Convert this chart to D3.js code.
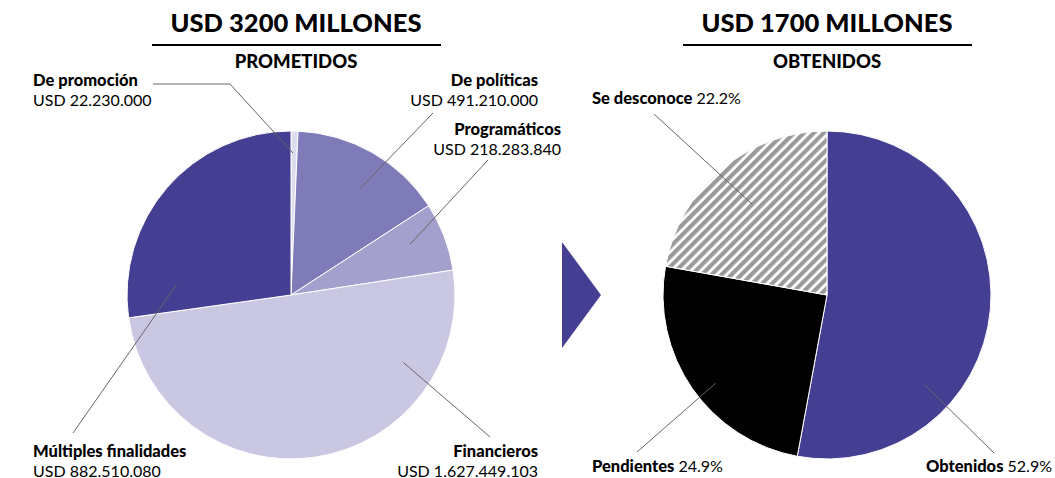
<!DOCTYPE html>
<html lang="es">
<head>
<meta charset="UTF-8">
<title>Prometidos / Obtenidos</title>
<script src="https://cdn.jsdelivr.net/npm/d3@7"></script>
<style>
    body { margin: 0; background: #fff; font-family: Lato, "Noto Sans", sans-serif; }
    svg { display: block; }
    .lead { stroke: #666; stroke-width: 1; fill: none; }
</style>
</head>
<body>
<svg width="1055" height="478"></svg>
<script>
// ---- data ----
const promisedTitle = "USD 3200 MILLONES";
const promisedSub = "PROMETIDOS";
const promisedLabels = ["De promoción", "De políticas", "Programáticos", "Financieros", "Múltiples finalidades"];
const promisedValues = [22230000, 491210000, 218283840, 1627449103, 882510080];
const promisedText = ["USD 22.230.000", "USD 491.210.000", "USD 218.283.840", "USD 1.627.449.103", "USD 882.510.080"];

const obtainedTitle = "USD 1700 MILLONES";
const obtainedSub = "OBTENIDOS";
const obtainedLabels = ["Obtenidos", "Pendientes", "Se desconoce"];
const obtainedValues = [52.9, 24.9, 22.2];
const obtainedText = ["52.9%", "24.9%", "22.2%"];

const promisedColors = ["#dedcef", "#7f7bb8", "#a4a0cd", "#c9c7e1", "#453f94"];
const obtainedColors = ["#453f94", "#000000", "url(#hatch)"];

const svg = d3.select("svg");
const R = 164;

const defs = svg.append("defs");
const pat = defs.append("pattern")
    .attr("id", "hatch")
    .attr("patternUnits", "userSpaceOnUse")
    .attr("width", 7).attr("height", 7)
    .attr("patternTransform", "rotate(45)");
pat.append("rect").attr("width", 7).attr("height", 7).attr("fill", "#fff");
pat.append("rect").attr("width", 4.2).attr("height", 7).attr("fill", "#9a9a9a");

const pie = d3.pie().sort(null).value(d => d);
const arc = d3.arc().innerRadius(0).outerRadius(R);

function header(cx, title, sub) {
    svg.append("text").attr("x", cx).attr("y", 32)
        .attr("text-anchor", "middle").attr("font-weight", 900)
        .attr("font-size", 25.5).text(title);
    svg.append("line").attr("x1", cx - 144).attr("x2", cx + 145)
        .attr("y1", 45).attr("y2", 45).attr("stroke", "#000").attr("stroke-width", 2);
    svg.append("text").attr("x", cx).attr("y", 68)
        .attr("text-anchor", "middle").attr("font-weight", 900)
        .attr("font-size", 18.5).text(sub);
}

function drawPie(cx, cy, values, colors) {
    const g = svg.append("g").attr("transform", `translate(${cx},${cy})`);
    g.selectAll("path").data(pie(values)).join("path")
        .attr("d", arc)
        .attr("fill", (d, i) => colors[i])
        .attr("stroke", "#fff").attr("stroke-width", 1);
    return g;
}

// leader line: inner point at [angle deg, radius] on the pie, outer points absolute
function leader(cx, cy, ang, rr, pts) {
    const p = d3.pointRadial(ang * Math.PI / 180, rr);
    const all = [[cx + p[0], cy + p[1]]].concat(pts);
    svg.append("path").attr("class", "lead").attr("d", d3.line()(all));
}

function twoLine(x, y, anchor, bold, normal) {
    svg.append("text").attr("x", x).attr("y", y)
        .attr("text-anchor", anchor).attr("font-size", 16.5)
        .attr("font-weight", 900).text(bold);
    svg.append("text").attr("x", x).attr("y", y + 19.5)
        .attr("text-anchor", anchor).attr("font-size", 16).text(normal);
}

function oneLine(x, y, anchor, bold, normal) {
    const t = svg.append("text").attr("x", x).attr("y", y)
        .attr("text-anchor", anchor).attr("font-size", 16);
    t.append("tspan").attr("font-weight", 900).attr("font-size", 16.5).text(bold);
    t.append("tspan").text(" " + normal);
}

// ---- left pie ----
const L = [291, 295];
header(296, promisedTitle, promisedSub);
drawPie(L[0], L[1], promisedValues, promisedColors);

leader(L[0], L[1], 0.8, 142, [[230, 84], [153, 84]]);
leader(L[0], L[1], 33, 127, [[433, 113]]);
leader(L[0], L[1], 67, 129, [[488, 160]]);
leader(L[0], L[1], 121, 131, [[490, 437]]);
leader(L[0], L[1], 275, 115, [[73, 433]]);

twoLine(33, 86, "start", promisedLabels[0], promisedText[0]);
twoLine(538, 86, "end", promisedLabels[1], promisedText[1]);
twoLine(561, 135, "end", promisedLabels[2], promisedText[2]);
twoLine(538, 457, "end", promisedLabels[3], promisedText[3]);
twoLine(33, 457, "start", promisedLabels[4], promisedText[4]);

// arrow
svg.append("path")
    .attr("d", d3.line()([[562, 242], [601, 295], [562, 348]]) + "Z")
    .attr("fill", "#453f94");

// ---- right pie ----
const Rc = [827, 295];
header(827, obtainedTitle, obtainedSub);
drawPie(Rc[0], Rc[1], obtainedValues, obtainedColors);

leader(Rc[0], Rc[1], 320.5, 118, [[654, 114]]);
leader(Rc[0], Rc[1], 231.6, 142, [[637, 452]]);
leader(Rc[0], Rc[1], 132.6, 133, [[994, 453]]);

oneLine(592, 104, "start", obtainedLabels[2], obtainedText[2]);
oneLine(592, 472, "start", obtainedLabels[1], obtainedText[1]);
oneLine(1052, 472, "end", obtainedLabels[0], obtainedText[0]);
</script>
</body>
</html>
